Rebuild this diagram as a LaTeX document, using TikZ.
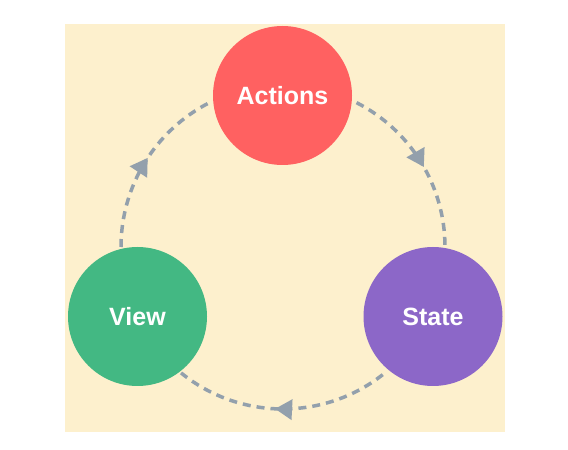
\documentclass[tikz,border=0pt]{standalone}
\usepackage{fontspec}
\setmainfont{Liberation Sans}
\usetikzlibrary{arrows.meta,decorations.markings}
\definecolor{bgcream}{HTML}{FDF0CD}
\definecolor{actred}{HTML}{FF6161}
\definecolor{viewgreen}{HTML}{43B883}
\definecolor{statepurple}{HTML}{8C67C8}
\definecolor{flowgray}{HTML}{93A0AC}
\begin{document}
\begin{tikzpicture}[x=1pt,y=1pt,
  stage/.style={circle,minimum size=139pt,inner sep=0pt,text=white,
    font=\fontsize{25}{29}\selectfont\bfseries},
  flow/.style={draw=flowgray,line width=3.5pt,dash pattern=on 8pt off 6pt,
    postaction={decorate},
    decoration={markings,mark=at position 0.53 with {\arrow[flowgray]{Triangle[length=17pt 0,width=20pt 0]}}}}]
\useasboundingbox (0,0) rectangle (568,450);
\fill[white] (0,0) rectangle (568,450);
\fill[bgcream] (65,18) rectangle (505,426);
\node[stage,fill=actred] (act) at (282.5,354.5) {Actions};
\node[stage,fill=viewgreen] (view) at (137.5,133.5) {View};
\node[stage,fill=statepurple] (state) at (433,133.5) {State};
\coordinate (c) at (283,203);
\coordinate (a1) at ([shift={(63:162)}]c);
\coordinate (s1) at ([shift={(-52:162)}]c);
\coordinate (v1) at ([shift={(180:162)}]c);
\draw[flow] (a1) arc[start angle=63,end angle=0,radius=162];
\draw[flow] (s1) arc[start angle=-52,end angle=-129,radius=162];
\draw[flow] (v1) arc[start angle=180,end angle=117,radius=162];
\end{tikzpicture}
\end{document}
